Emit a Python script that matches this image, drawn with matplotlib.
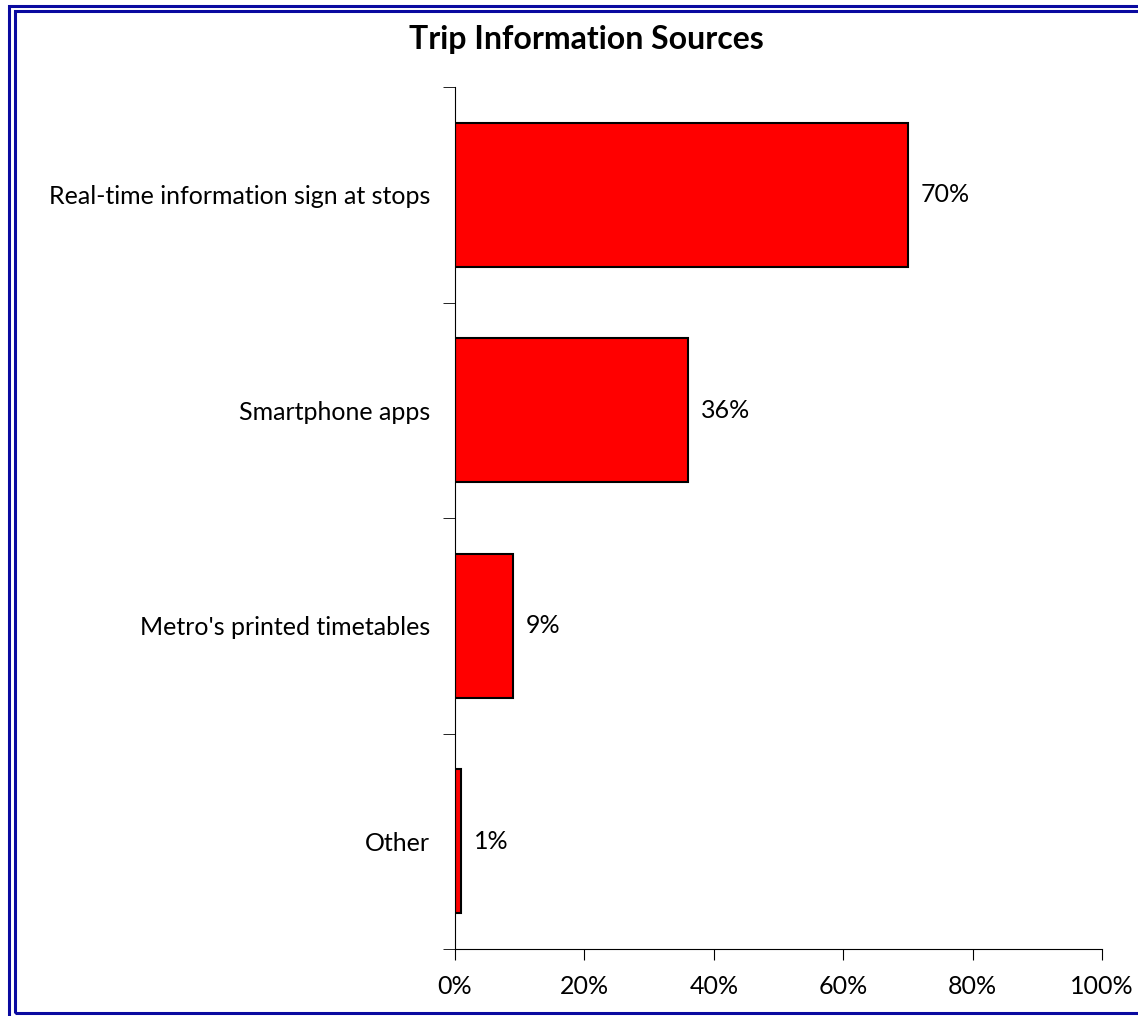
import matplotlib
matplotlib.use('Agg')
from matplotlib import pyplot as plt
from matplotlib.patches import Rectangle
from matplotlib.ticker import FuncFormatter

categories = ['Real-time information sign at stops', 'Smartphone apps',
              "Metro's printed timetables", 'Other']
values = [70, 36, 9, 1]
x_ticks = [0, 20, 40, 60, 80, 100]

plt.rcParams['font.family'] = ['Lato', 'DejaVu Sans']

W, H = 1138, 1016
fig = plt.figure(figsize=(W / 100, H / 100), dpi=100)
ax = fig.add_axes([455 / W, 1 - 949 / H, (1102 - 455) / W, (949 - 87) / H])

pos = list(range(len(categories)))
ax.barh(pos, values, height=0.67, color='#ff0000', edgecolor='black', linewidth=1.5)
for p, v in zip(pos, values):
    ax.text(v + 2, p, '%d%%' % v, va='center', ha='left', fontsize=18)

ax.set_ylim(len(categories) - 0.5, -0.5)
ax.set_xlim(0, 100)
ax.set_xticks(x_ticks)
ax.xaxis.set_major_formatter(FuncFormatter(lambda x, _: '%d%%' % x))
ax.set_yticks(pos)
ax.set_yticklabels(categories, fontsize=18)
ax.tick_params(axis='y', which='major', length=0, pad=18)
ax.set_yticks([i - 0.5 for i in range(len(categories) + 1)], minor=True)
ax.tick_params(axis='y', which='minor', length=9, direction='out')
ax.tick_params(axis='x', length=8, direction='out', labelsize=18, pad=11)
for s in ['top', 'right']:
    ax.spines[s].set_visible(False)

fig.text(586 / W, 1 - 39 / H, 'Trip Information Sources', ha='center', va='center',
         fontsize=23, fontweight='bold')

# double blue frame, partly cut off at the right and bottom
for x0, y0, x1, y1 in [(9, 5.5, 1160, 1040), (15, 11, 1150, 1013)]:
    fig.patches.append(Rectangle((x0 / W, 1 - y1 / H), (x1 - x0) / W, (y1 - y0) / H,
                                 transform=fig.transFigure, fill=False,
                                 edgecolor='#0a0aa0', linewidth=2.2))

fig.savefig('out.png', dpi=100)
